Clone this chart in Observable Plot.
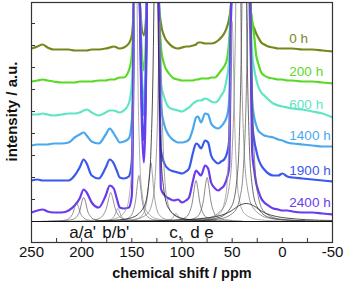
<!DOCTYPE html>
<html><head><meta charset="utf-8">
<script src="https://cdn.jsdelivr.net/npm/d3@7"></script>
<script src="https://cdn.jsdelivr.net/npm/@observablehq/plot@0.6"></script>
<style>body{margin:0;background:#fff;}</style>
</head><body><div id="chart"></div>
<script>
// chemical shift grid (ppm)
const shift = [250,244,239,234,228,220,213,207,202,198,195,190,183,176,172,168,165,162,158,153,150,148,145,142,138,135,132,129,126,123,121,118,113,108,104,100,96,93,89,86,84,81,77,74,71,67,64,61,58,55,53,51,41,32,30,28,26,24,21,18,14,9,4,0,-5,-10,-20,-30,-40,-50];
// intensities above each trace's own baseline (a.u.)
const s0 = [0,2,4,1,-1,-1,-1,-2,-2,-2,-2,-1,-1,0,1,2,1,0,1,5,13,46,500,46,13,46,500,400,400,46,25,13,5,1,0,1,2,2,3,4,6,6,5,5,5,6,8,11,15,22,30,46,800,46,26,20,15,11,6,4,2,1,0,0,0,0,-1,-1,-2,-3];
const s200 = [0,1,2,1,0,-1,-1,-1,0,0,0,0,1,1,2,2,3,4,4,11,26,79,500,79,11,79,500,400,400,79,35,18,8,3,2,1,1,1,1,2,2,3,3,3,4,4,7,11,15,23,41,79,800,79,60,45,26,18,9,6,4,3,2,2,1,1,0,0,-1,-2];
const s600 = [0,0,1,0,-1,0,1,1,2,4,5,2,-1,2,4,4,3,2,4,11,31,112,600,112,14,112,600,500,500,112,30,18,7,5,4,3,5,7,11,13,14,14,16,15,13,12,14,19,24,38,55,112,800,112,60,45,35,28,22,19,15,11,9,8,7,6,5,3,1,-3];
const s1400 = [0,1,1,1,2,2,3,8,11,13,10,4,2,11,17,12,7,3,4,7,25,143,800,143,30,143,800,700,700,143,40,22,10,5,3,3,4,6,17,28,29,23,32,31,22,18,17,19,23,30,45,143,900,143,45,28,20,15,12,10,9,8,6,5,3,2,1,0,-1,-1];
const s1900 = [0,1,0,0,0,0,0,5,13,21,17,5,2,13,21,17,10,3,2,4,20,178,900,178,40,178,900,800,800,178,30,18,11,9,8,7,9,12,28,37,36,32,40,38,25,19,17,19,21,28,40,178,900,178,60,40,30,22,15,11,7,5,5,7,4,3,2,1,0,-1];
const s2400 = [0,2,3,1,0,0,2,7,14,23,20,10,5,17,27,24,14,5,4,5,17,210,900,210,50,210,900,800,800,210,24,18,14,12,13,10,12,15,32,42,40,37,47,44,30,24,22,24,27,35,45,210,900,210,60,42,29,22,14,10,7,4,3,2,2,1,0,0,-1,-2];
const series = ["0 h","200 h","600 h","1400 h","1900 h","2400 h"];
const offsets = [173,140,107,76,41,9];
const colors = ["#74891d","#5ad826","#5ee6c4","#4aa8ee","#3a58ec","#6a3cee"];

// fitted components [ppm, intensity]
const compA  = [[240,0.2],[222,0.7],[215,1.8],[212,3.6],[208.5,9],[207,14],[205,18],[203,14],[201.5,9],[198,3.6],[195,1.8],[188,0.7],[170,0.2]];
const compA2 = [[233,0.3],[215,1],[208,2.4],[205,4.8],[201.5,12],[200,19],[198,24],[196,19],[194.5,12],[191,4.8],[188,2.4],[181,1],[163,0.3]];
const compB  = [[211,0.3],[191,1.1],[183,2.9],[179,5.8],[175,14.5],[173,23],[171,29],[169,23],[167,14.5],[163,5.8],[159,2.9],[151,1.1],[131,0.3]];
const compB2 = [[194,0.1],[179,0.5],[173,1.3],[170,2.6],[167,6.5],[165.5,10.4],[164,13],[162.5,10.4],[161,6.5],[158,2.6],[155,1.3],[149,0.5],[134,0.1]];
const compC1 = [[196,0.5],[176,1.3],[166,3],[156,11.5],[152,30],[150,60],[148,150],[147,240],[146,300],[145,240],[144,150],[142,60],[140,30],[136,11.5],[126,3],[116,1.3],[96,0.5]];
const compC2 = [[173,0.5],[158,1.8],[152,4.6],[149,9.2],[146,23],[144.5,37],[143,46],[141.5,37],[140,23],[137,9.2],[134,4.6],[128,1.8],[113,0.5]];
const compC3 = [[161,0.6],[146,2.2],[140,5.9],[137,11.8],[134,29.5],[132.5,47],[131,59],[129.5,47],[128,29.5],[125,11.8],[122,5.9],[116,2.2],[101,0.6]];
const compC4 = [[186,0.6],[166,1.4],[151,3.5],[138.5,13.5],[133.5,35],[131,70],[128.5,175],[127.25,280],[126,350],[124.75,280],[123.5,175],[121,70],[118.5,35],[113.5,13.5],[101,3.5],[86,1.4],[66,0.6]];
const compC5 = [[182,0.3],[162,0.8],[147,2],[134.5,7.7],[129.5,20],[127,40],[124.5,100],[123.25,160],[122,200],[120.75,160],[119.5,100],[117,40],[114.5,20],[109.5,7.7],[97,2],[82,0.8],[62,0.3]];
const compc  = [[121,0.3],[115,0.8],[112,1.6],[109,4],[107.5,6.4],[106,8],[104.5,6.4],[103,4],[100,1.6],[97,0.8],[91,0.3]];
const compd  = [[121,0.4],[103.5,1.6],[96.5,4.1],[93,8.2],[89.5,20.5],[87.75,33],[86,41],[84.25,33],[82.5,20.5],[79,8.2],[75.5,4.1],[68.5,1.6],[51,0.4]];
const compe  = [[110,0.4],[92.5,1.7],[85.5,4.4],[82,8.8],[78.5,22],[76.75,35],[75,44],[73.25,35],[71.5,22],[68,8.8],[64.5,4.4],[57.5,1.7],[40,0.4]];
const compR1 = [[110,0.35],[90,0.8],[75,2],[62.5,7.7],[57.5,20],[55,40],[52.5,100],[51.25,160],[50,200],[48.75,160],[47.5,100],[45,40],[42.5,20],[37.5,7.7],[25,2],[10,0.8],[-10,0.35]];
const compR2 = [[119,0.6],[94,1.3],[74,3.5],[59,13.5],[53,35],[50,70],[47,175],[45.5,280],[44,350],[42.5,280],[41,175],[38,70],[35,35],[29,13.5],[14,3.5],[-6,1.3],[-31,0.6]];
const compR3 = [[98,0.7],[78,1.6],[63,4],[50.5,15.4],[45.5,40],[43,80],[40.5,200],[39.25,320],[38,400],[36.75,320],[35.5,200],[33,80],[30.5,40],[25.5,15.4],[13,4],[-2,1.6],[-22,0.7]];
const compR4 = [[108,0.4],[83,0.9],[63,2.5],[48,9.6],[42,25],[39,50],[36,125],[34.5,200],[33,250],[31.5,200],[30,125],[27,50],[24,25],[18,9.6],[3,2.5],[-17,0.9],[-42,0.4]];
const compR5 = [[186,0.3],[136,0.7],[96,1.8],[76,3.5],[66,5],[56,8],[51,10.5],[46,14],[41,17],[36,18],[31,17],[26,14],[21,10.5],[16,8],[6,5],[-4,3.5],[-24,1.8],[-50,1]];
const components = [compA,compA2,compB,compB2,compC2,compC3,compc,compd,compe,compC1,compC5,compR1,compR2,compR4,compC4,compR3,compR5];
const compColors = ["#7a7a7a","#6a6a6a","#7a7a7a","#8a8a8a","#777","#888","#888","#6a6a6a","#6a6a6a","#999","#888","#999","#888","#666","#222","#444","#222"];

const peakLabels = ["a/a'","b/b'","c,","d","e"];
const peakPpm = [199,166,106,87,73];
const xTicks = [250,225,200,175,150,125,100,75,50,25,0,-25,-50];
const xLabels = [250,200,150,100,50,0,-50];
const yTicks = [22,44,66,88,110,132,154,176,198];

const traces = [s0,s200,s600,s1400,s1900,s2400];
const rows = traces.flatMap((arr,i) => arr.map((v,j) => ({series: series[i], ppm: shift[j], y: v + offsets[i]})));
const compRows = components.flatMap((c,i) => c.map(([p,v]) => ({k: i, ppm: p, y: v})));

const plot = Plot.plot({
  width: 344, height: 286,
  marginLeft: 31, marginRight: 12, marginTop: 2, marginBottom: 44,
  style: {fontFamily: "'Liberation Sans', Arial, sans-serif", background: "#fff", color: "#111"},
  x: {domain: [250, -50]},
  y: {domain: [-21, 219], axis: null},
  color: {domain: series, range: colors},
  marks: [
    Plot.line(rows, {x: "ppm", y: "y", z: "series", stroke: "series", strokeWidth: 2.2, curve: "monotone-x", clip: true}),
    Plot.line(compRows, {x: "ppm", y: "y", z: "k", stroke: d => compColors[d.k], strokeWidth: 0.8, curve: "monotone-x", clip: true}),
    Plot.ruleY([0], {stroke: "#111", strokeWidth: 1}),
    Plot.frame({stroke: "#333", strokeWidth: 1.2}),
    Plot.ruleY(yTicks, {x1: 250, x2: 246, stroke: "#333"}),
    Plot.ruleX(xTicks, {y1: -21, y2: -17, stroke: "#333"}),
    Plot.axisX({ticks: xLabels, tickSize: 0, tickPadding: 4, fontSize: 15, label: null, tickFormat: d => String(d)}),
    Plot.text(series, {x: -7, y: (d,i) => offsets[i], dy: -10, text: d => d, fill: d => d, textAnchor: "start", fontSize: 13.5}),
    Plot.text(peakLabels, {x: (d,i) => peakPpm[i], y: -11, text: d => d, fontSize: 17, fill: "#111"}),
    Plot.text(["chemical shift / ppm"], {frameAnchor: "bottom", dy: 35, fontWeight: "bold", fontSize: 14.5, fill: "#111"}),
    Plot.text(["intensity / a.u."], {frameAnchor: "left", y: 110, dx: -19, rotate: -90, textAnchor: "middle", fontWeight: "bold", fontSize: 15, fill: "#111"})
  ]
});
document.getElementById("chart").append(plot);
</script>
</body></html>
